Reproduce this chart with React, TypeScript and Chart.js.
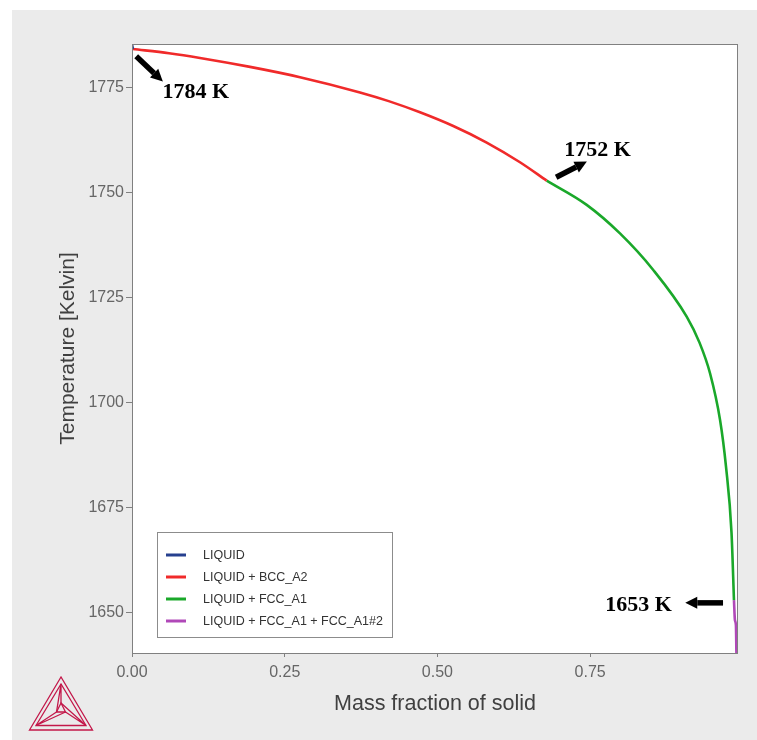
import React, { useEffect, useRef } from "react";
import { Chart, registerables } from "chart.js";

Chart.register(...registerables);

// ---- data ----
const seriesLabels = ["LIQUID", "LIQUID + BCC_A2", "LIQUID + FCC_A1", "LIQUID + FCC_A1 + FCC_A1#2"];
const seriesColors = ["#26408f", "#f02a2a", "#1aa82a", "#b048b8"];

const liquidX = [0, 0.0015];
const liquidT = [1785.3, 1784.2];

const bccX = [0.0015, 0.0606, 0.1113, 0.1932, 0.275, 0.3732, 0.4202, 0.4714, 0.5259, 0.5806, 0.6351, 0.6788];
const bccT = [1784.2, 1783.2, 1782.08, 1779.95, 1777.5, 1773.87, 1771.8, 1769.14, 1765.87, 1761.93, 1757.24, 1752.87];

const fccX = [0.6788, 0.7443, 0.7988, 0.8533, 0.908, 0.929, 0.9462, 0.9626, 0.9724, 0.9814, 0.9854];
const fccT = [1752.87, 1747.1, 1740.3, 1731.6, 1720.5, 1714.3, 1707.0, 1695.9, 1684.7, 1669.0, 1653.0];

const fcc2X = [0.9854, 0.987, 0.9886, 0.9894];
const fcc2T = [1653.0, 1648.2, 1647.0, 1640.4];

const xMin = 0;
const xMax = 0.992;
const tMin = 1640.4;
const tMax = 1785.4;
const xStep = 0.25;
const tStep = 25;

const xTitle = "Mass fraction of solid";
const yTitle = "Temperature [Kelvin]";

// annotations (data coordinates)
const noteLabels = ["1784 K", "1752 K", "1653 K"];
const noteTextX = [0.05, 0.7074, 0.7746];
const noteTextT = [1772.6, 1758.76, 1650.36];
const arrowFromX = [0.0069, 0.6943, 0.9675];
const arrowFromT = [1782.47, 1753.68, 1652.34];
const arrowToX = [0.0505, 0.7446, 0.9057];
const arrowToT = [1776.5, 1757.4, 1652.34];

const SANS = "'Liberation Sans', Arial, sans-serif";
const SERIF = "'Liberation Serif', 'Times New Roman', serif";

function pts(xs: number[], ts: number[]) {
  return xs.map((x, i) => ({ x, y: ts[i] }));
}

const decorPlugin = {
  id: "decor",
  beforeDraw(chart: any) {
    const { ctx, chartArea: a, width, height } = chart;
    ctx.save();
    ctx.fillStyle = "#ffffff";
    ctx.fillRect(0, 0, width, height);
    ctx.fillStyle = "#ebebeb";
    ctx.fillRect(12, 10, width - 12, height - 10);
    ctx.fillStyle = "#ffffff";
    ctx.fillRect(a.left, a.top, a.right - a.left, a.bottom - a.top);
    ctx.restore();
  },
  afterDraw(chart: any) {
    const { ctx, chartArea: a } = chart;
    const xs = chart.scales.x;
    const ys = chart.scales.y;
    ctx.save();
    // plot border
    ctx.strokeStyle = "#808080";
    ctx.lineWidth = 1;
    ctx.strokeRect(a.left + 0.5, a.top + 0.5, a.right - a.left - 1, a.bottom - a.top);

    // legend
    const ds = chart.data.datasets;
    const lx = a.left + 25;
    const lw = 235;
    const rowH = 22;
    const lh = 105;
    const ly = a.bottom - 16 - lh;
    ctx.fillStyle = "#ffffff";
    ctx.fillRect(lx, ly, lw, lh);
    ctx.strokeStyle = "#8c8c8c";
    ctx.strokeRect(lx + 0.5, ly + 0.5, lw, lh);
    ctx.font = `12.5px ${SANS}`;
    ctx.textBaseline = "middle";
    ctx.textAlign = "left";
    ds.forEach((d: any, i: number) => {
      const cy = ly + 23 + i * rowH;
      ctx.strokeStyle = d.borderColor;
      ctx.lineWidth = 3;
      ctx.beginPath();
      ctx.moveTo(lx + 9, cy);
      ctx.lineTo(lx + 29, cy);
      ctx.stroke();
      ctx.fillStyle = "#333333";
      ctx.fillText(d.label, lx + 46, cy + 0.5);
    });

    // annotations
    ctx.fillStyle = "#000000";
    ctx.font = `bold 22px ${SERIF}`;
    ctx.textBaseline = "alphabetic";
    noteLabels.forEach((t, i) => {
      ctx.fillText(t, xs.getPixelForValue(noteTextX[i]), ys.getPixelForValue(noteTextT[i]));
      const x0 = xs.getPixelForValue(arrowFromX[i]);
      const y0 = ys.getPixelForValue(arrowFromT[i]);
      const x1 = xs.getPixelForValue(arrowToX[i]);
      const y1 = ys.getPixelForValue(arrowToT[i]);
      const ang = Math.atan2(y1 - y0, x1 - x0);
      const headLen = 12;
      const hx = x1 - headLen * Math.cos(ang);
      const hy = y1 - headLen * Math.sin(ang);
      ctx.strokeStyle = "#000000";
      ctx.lineWidth = 5.5;
      ctx.lineCap = "butt";
      ctx.beginPath();
      ctx.moveTo(x0, y0);
      ctx.lineTo(hx, hy);
      ctx.stroke();
      const px = -Math.sin(ang);
      const py = Math.cos(ang);
      ctx.beginPath();
      ctx.moveTo(x1, y1);
      ctx.lineTo(hx + px * 6, hy + py * 6);
      ctx.lineTo(hx - px * 6, hy - py * 6);
      ctx.closePath();
      ctx.fill();
    });

    // logo (decoration)
    ctx.strokeStyle = "#c3184a";
    ctx.lineWidth = 1.3;
    const tri = (p: number[][]) => {
      ctx.beginPath();
      ctx.moveTo(p[0][0], p[0][1]);
      ctx.lineTo(p[1][0], p[1][1]);
      ctx.lineTo(p[2][0], p[2][1]);
      ctx.closePath();
      ctx.stroke();
    };
    const outer = [[61, 677], [29.5, 730], [92.5, 730]];
    const inner = [[61, 684], [36, 725.5], [86, 725.5]];
    const core = [[61, 703], [56.5, 712], [65.5, 712]];
    tri(outer);
    tri(inner);
    tri(core);
    ctx.beginPath();
    for (let i = 0; i < 3; i++) {
      ctx.moveTo(inner[i][0], inner[i][1]);
      ctx.lineTo(core[i][0], core[i][1]);
      ctx.moveTo(inner[i][0], inner[i][1]);
      ctx.lineTo(core[(i + 1) % 3][0], core[(i + 1) % 3][1]);
    }
    ctx.stroke();
    ctx.restore();
  },
};

export default function App() {
  const ref = useRef<HTMLCanvasElement | null>(null);
  useEffect(() => {
    if (!ref.current) return;
    const seriesX = [liquidX, bccX, fccX, fcc2X];
    const seriesT = [liquidT, bccT, fccT, fcc2T];
    const chart = new Chart(ref.current, {
      type: "scatter",
      data: {
        datasets: seriesLabels.map((label, i) => ({
          label,
          data: pts(seriesX[i], seriesT[i]),
          showLine: true,
          borderColor: seriesColors[i],
          backgroundColor: seriesColors[i],
          borderWidth: 2.6,
          pointRadius: 0,
          cubicInterpolationMode: "monotone",
        })),
      },
      options: {
        animation: false,
        responsive: false,
        devicePixelRatio: 1,
        layout: { padding: { left: 0, top: 44, right: 19, bottom: 0 } },
        plugins: { legend: { display: false }, tooltip: { enabled: false } },
        scales: {
          x: {
            type: "linear",
            min: xMin,
            max: xMax,
            afterFit(scale: any) {
              scale.height = 87;
            },
            border: { display: false },
            grid: { drawOnChartArea: false, drawTicks: true, tickLength: 4, tickColor: "#808080" },
            ticks: {
              stepSize: xStep,
              includeBounds: false,
              color: "#666666",
              padding: 6,
              maxRotation: 0,
              font: { family: SANS, size: 16 },
              callback: (v: any) => Number(v).toFixed(2),
            },
            title: {
              display: true,
              text: xTitle,
              color: "#404040",
              font: { family: SANS, size: 21.5 },
              padding: { top: 0, bottom: 23.2 },
            },
          },
          y: {
            type: "linear",
            min: tMin,
            max: tMax,
            afterFit(scale: any) {
              scale.width = 132;
            },
            border: { display: false },
            grid: { drawOnChartArea: false, drawTicks: true, tickLength: 6, tickColor: "#808080" },
            ticks: {
              stepSize: tStep,
              includeBounds: false,
              color: "#666666",
              padding: 2,
              font: { family: SANS, size: 16 },
              callback: (v: any) => String(Math.round(Number(v))),
            },
            title: {
              display: true,
              text: yTitle,
              color: "#404040",
              font: { family: SANS, size: 21 },
              padding: { top: 55.4, bottom: 0 },
            },
          },
        },
      },
      plugins: [decorPlugin],
    });
    return () => chart.destroy();
  }, []);
  return (
    <div style={{ position: "fixed", left: 0, top: 0, width: 757, height: 740 }}>
      <canvas ref={ref} width={757} height={740} style={{ display: "block", width: 757, height: 740 }} />
    </div>
  );
}
